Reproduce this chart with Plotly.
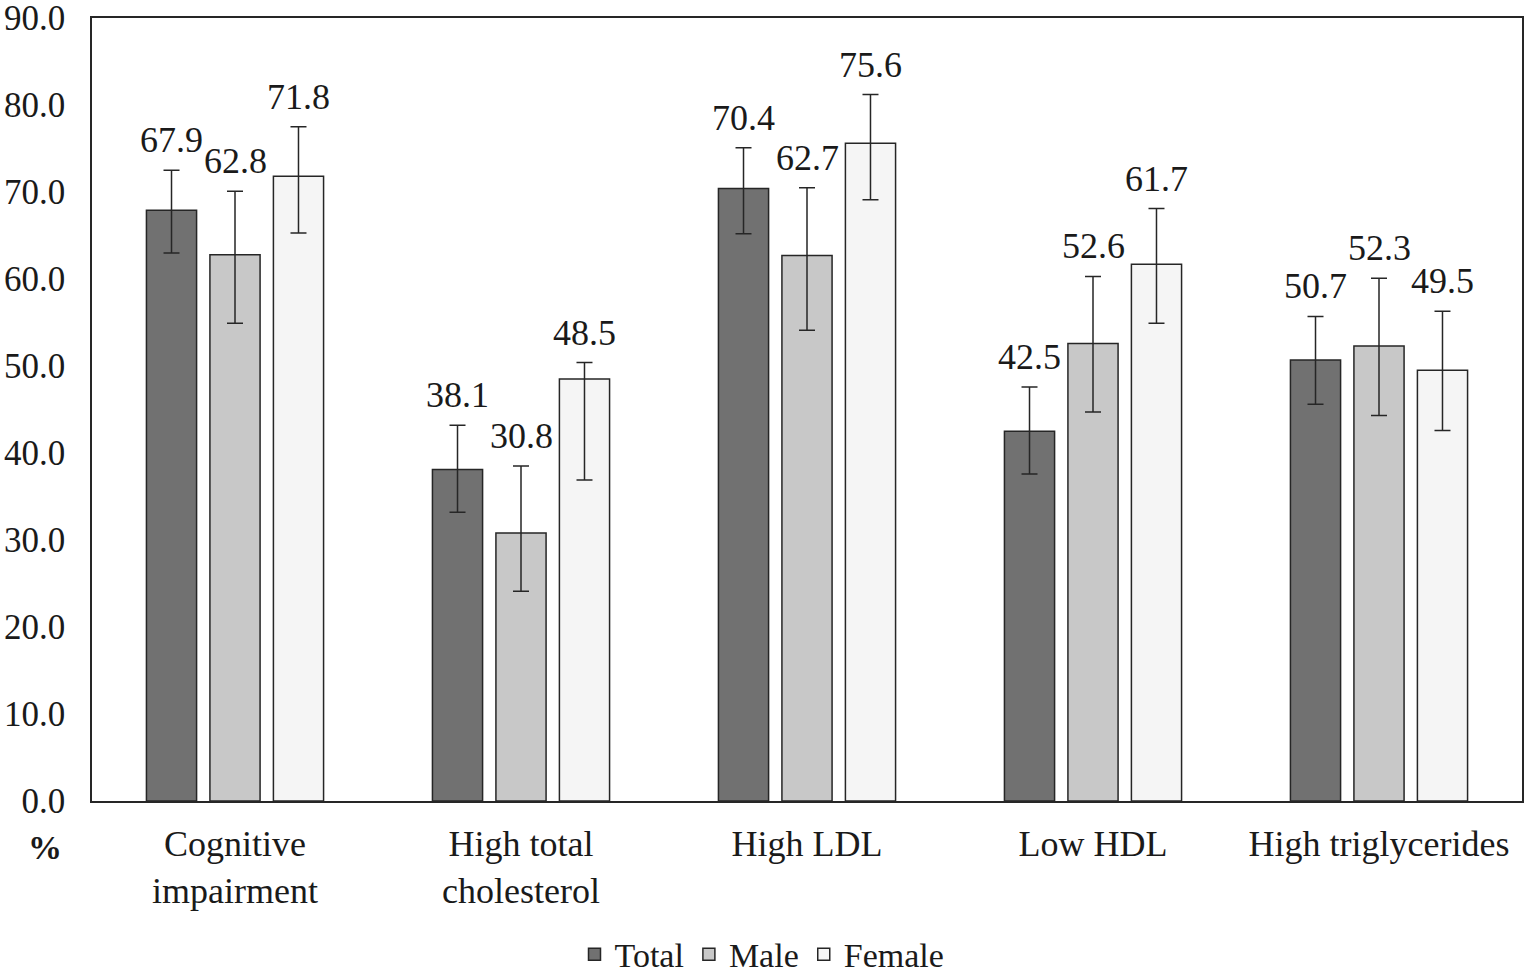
import plotly.graph_objects as go

categories = ["Cognitive<br>impairment", "High total<br>cholesterol", "High LDL", "Low HDL", "High triglycerides"]
series_names = ["Total", "Male", "Female"]

total = [67.9, 38.1, 70.4, 42.5, 50.7]
male = [62.8, 30.8, 62.7, 52.6, 52.3]
female = [71.8, 48.5, 75.6, 61.7, 49.5]

total_upper = [72.5, 43.2, 75.1, 47.6, 55.7]
total_lower = [63.0, 33.2, 65.2, 37.6, 45.6]
male_upper = [70.1, 38.5, 70.5, 60.3, 60.1]
male_lower = [54.9, 24.1, 54.1, 44.7, 44.3]
female_upper = [77.5, 50.4, 81.2, 68.1, 56.3]
female_lower = [65.3, 36.9, 69.1, 54.9, 42.6]

y_ticks = [0, 10, 20, 30, 40, 50, 60, 70, 80, 90]

colors = ["#717171", "#c8c8c8", "#f5f5f5"]
edge = "#262626"
FONT = "Liberation Serif, Times New Roman, serif"

values = [total, male, female]
uppers = [total_upper, male_upper, female_upper]
lowers = [total_lower, male_lower, female_lower]

fig = go.Figure()
for name, v, up, lo, c in zip(series_names, values, uppers, lowers, colors):
    fig.add_trace(go.Bar(
        x=categories, y=v, name=name,
        marker=dict(color=c, line=dict(color=edge, width=1.5)),
        error_y=dict(type="data", symmetric=False,
                     array=[u - a for u, a in zip(up, v)],
                     arrayminus=[a - l for l, a in zip(lo, v)],
                     color=edge, thickness=1.5, width=8),
    ))

# data labels above the error bars
offsets = [-63.5, 0, 63.5]
annotations = []
for v, up, off in zip(values, uppers, offsets):
    for cat, val, u in zip(categories, v, up):
        annotations.append(dict(
            x=cat, y=u, xref="x", yref="y", text=f"{val:.1f}",
            showarrow=False, xshift=off, yshift=8, yanchor="bottom",
            font=dict(family=FONT, size=36, color="#1a1a1a"),
        ))
annotations.append(dict(
    x=-0.033, y=-0.06, xref="paper", yref="paper", text="<b>%</b>",
    showarrow=False, xanchor="center", yanchor="middle",
    font=dict(family=FONT, size=34, color="#1a1a1a"),
))

fig.update_layout(
    width=1524, height=978,
    margin=dict(l=92, r=2, t=18, b=177, autoexpand=False),
    paper_bgcolor="white", plot_bgcolor="white",
    barmode="group", bargap=0.334, bargroupgap=0.21,
    font=dict(family=FONT, size=36, color="#1a1a1a"),
    showlegend=True,
    legend=dict(orientation="h", xref="container", yref="container",
                x=0.5, xanchor="center", y=0.024, yanchor="middle",
                font=dict(family=FONT, size=34, color="#1a1a1a"),
                traceorder="normal"),
    annotations=annotations,
)
fig.update_xaxes(showline=True, mirror=True, linecolor=edge, linewidth=1.5,
                 ticks="", showgrid=False, automargin=False, ticklabelstandoff=10,
                 tickfont=dict(family=FONT, size=36, color="#1a1a1a"))
fig.update_yaxes(range=[0, 90], tickvals=y_ticks, ticktext=[f"{t:.1f}" for t in y_ticks],
                 showline=True, mirror=True, linecolor=edge, linewidth=1.5,
                 ticks="", showgrid=False, zeroline=False, ticklabelstandoff=18,
                 automargin=False, ticklabeloverflow="allow",
                 tickfont=dict(family=FONT, size=35, color="#1a1a1a"))

fig.write_html("out.html")
